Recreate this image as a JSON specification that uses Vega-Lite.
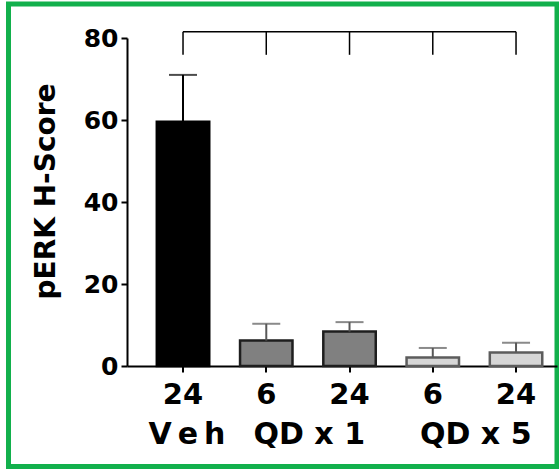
{
  "$schema": "https://vega.github.io/schema/vega-lite/v6.json",
  "autosize": {"type": "none"},
  "padding": {"left": 8.5, "top": 4, "right": 2, "bottom": 4},
  "width": 548.5,
  "height": 462.5,
  "background": "white",
  "config": {
    "font": "DejaVu Sans",
    "view": {"stroke": "#12b04c", "strokeWidth": 5},
    "axis": {
      "grid": false,
      "labelFontWeight": "bold",
      "labelColor": "black",
      "domainColor": "black",
      "domainWidth": 2,
      "tickColor": "black",
      "tickWidth": 2,
      "titleColor": "black",
      "titleFontWeight": "bold"
    }
  },
  "data": {
    "values": [
      {"bar": "Veh|24", "group": "Veh", "label": "V\u2009e\u2009h", "time": "24", "mean": 59.6, "upper": 71.0},
      {"bar": "QD x 1|6", "group": "QD x 1", "label": "QD x 1", "time": "6", "mean": 6.2, "upper": 10.3},
      {"bar": "QD x 1|24", "group": "QD x 1", "label": "QD x 1", "time": "24", "mean": 8.4, "upper": 10.7},
      {"bar": "QD x 5|6", "group": "QD x 5", "label": "QD x 5", "time": "6", "mean": 2.1, "upper": 4.4},
      {"bar": "QD x 5|24", "group": "QD x 5", "label": "QD x 5", "time": "24", "mean": 3.3, "upper": 5.7}
    ]
  },
  "layer": [
    {
      "mark": {"type": "bar", "strokeWidth": 2.5},
      "encoding": {
        "x": {
          "field": "bar",
          "type": "nominal",
          "sort": null,
          "scale": {
            "domain": ["Veh|24", "QD x 1|6", "QD x 1|24", "QD x 5|6", "QD x 5|24"],
            "range": [118.5, 548.5],
            "paddingInner": 0.37,
            "paddingOuter": 0.2675,
            "align": 0.669
          },
          "axis": {
            "title": null,
            "orient": "bottom",
            "offset": -100.5,
            "labelExpr": "split(datum.label, '|')[1]",
            "labelAngle": 0,
            "labelFontSize": 29,
            "labelPadding": 8,
            "tickSize": 6
          }
        },
        "y": {
          "field": "mean",
          "type": "quantitative",
          "scale": {"domain": [0, 80], "range": [362, 34], "nice": false},
          "axis": {
            "title": "pERK H-Score",
            "values": [0, 20, 40, 60, 80],
            "offset": -118.5,
            "labelFontSize": 25,
            "labelPadding": 3,
            "tickSize": 6,
            "titleFontSize": 28,
            "titleAngle": 270,
            "titleBaseline": "alphabetic",
            "titleAlign": "center",
            "titleX": -73,
            "titleY": 187
          }
        },
        "color": {
          "field": "group",
          "type": "nominal",
          "scale": {"domain": ["Veh", "QD x 1", "QD x 5"], "range": ["#000000", "#808080", "#d6d6d6"]},
          "legend": null
        },
        "stroke": {
          "field": "group",
          "type": "nominal",
          "scale": {"domain": ["Veh", "QD x 1", "QD x 5"], "range": ["#000000", "#1e1e1e", "#5c5c5c"]},
          "legend": null
        }
      }
    },
    {
      "mark": {"type": "rule", "strokeWidth": 2},
      "encoding": {
        "x": {"field": "bar", "type": "nominal", "sort": null},
        "y": {"field": "mean", "type": "quantitative"},
        "y2": {"field": "upper"},
        "stroke": {"condition": {"test": "datum.group == 'Veh'", "value": "#000000"}, "value": "#585858"}
      }
    },
    {
      "mark": {"type": "tick", "thickness": 2},
      "encoding": {
        "x": {"field": "bar", "type": "nominal", "sort": null},
        "y": {"field": "upper", "type": "quantitative"},
        "size": {"value": 28},
        "color": {"condition": {"test": "datum.group == 'Veh'", "value": "#000000"}, "value": "#585858"}
      }
    },
    {
      "mark": {"type": "rule", "strokeWidth": 1.5, "color": "black"},
      "encoding": {
        "x": {"field": "bar", "type": "nominal", "sort": null},
        "y": {"datum": 75.9},
        "y2": {"datum": 81.5}
      }
    },
    {
      "data": {"values": [{"start": "Veh|24", "end": "QD x 5|24", "level": 81.5}]},
      "mark": {"type": "rule", "strokeWidth": 1.5, "color": "black"},
      "encoding": {
        "x": {"field": "start", "type": "nominal"},
        "x2": {"field": "end"},
        "y": {"field": "level", "type": "quantitative"}
      }
    },
    {
      "transform": [{"filter": "datum.group == 'Veh'"}],
      "mark": {"type": "text", "font": "DejaVu Sans", "fontWeight": "bold", "fontSize": 30, "baseline": "alphabetic", "align": "center", "dx": 4, "dy": 78, "color": "black"},
      "encoding": {
        "x": {"field": "bar", "type": "nominal", "sort": null},
        "y": {"datum": 0},
        "text": {"field": "label"}
      }
    },
    {
      "transform": [{"filter": "datum.group != 'Veh' && datum.time == '6'"}],
      "mark": {"type": "text", "font": "DejaVu Sans", "fontWeight": "bold", "fontSize": 30, "baseline": "alphabetic", "align": "center", "dx": 43, "dy": 78, "color": "black"},
      "encoding": {
        "x": {"field": "bar", "type": "nominal", "sort": null},
        "y": {"datum": 0},
        "text": {"field": "label"}
      }
    }
  ]
}
